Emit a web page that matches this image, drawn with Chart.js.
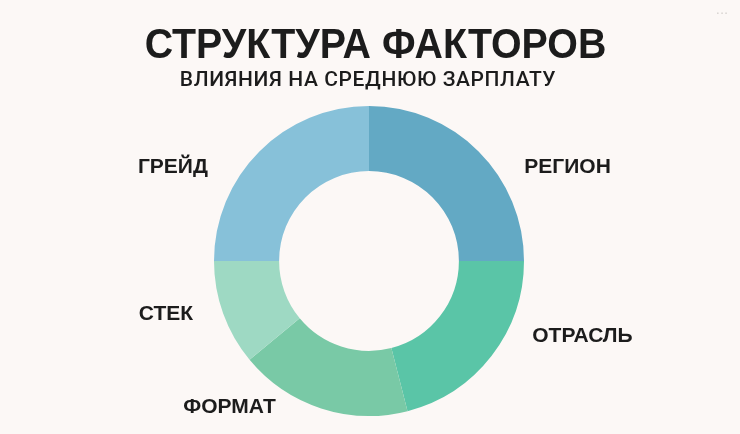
<!DOCTYPE html>
<html>
<head>
<meta charset="utf-8">
<script src="https://cdn.jsdelivr.net/npm/chart.js@4"></script>
<style>
  html, body { margin: 0; padding: 0; background: #fcf8f6; }
  #wrap { position: relative; width: 740px; height: 434px; }
</style>
</head>
<body>
<div id="wrap"><canvas id="factorsChart" width="740" height="434"></canvas></div>
<script>
  var factorLabels = ["РЕГИОН", "ОТРАСЛЬ", "ФОРМАТ", "СТЕК", "ГРЕЙД"];
  var factorShares = [25, 21, 18, 11, 25];
  var factorColors = ["#63a9c4", "#5ac5a7", "#79c9a6", "#9ed9c3", "#87c1d9"];

  var titleText = "СТРУКТУРА ФАКТОРОВ";
  var subtitleText = "ВЛИЯНИЯ НА СРЕДНЮЮ ЗАРПЛАТУ";

  // where each label sits, as a multiple of the outer radius from the centre
  var labelOffsets = [[1.281, -0.613], [1.377, 0.477], [-0.9, 0.935], [-1.31, 0.335], [-1.265, -0.613]];

  var textPlugin = {
    id: "factorText",
    afterDraw: function (chart) {
      var ctx = chart.ctx;
      var arc = chart.getDatasetMeta(0).data[0];
      var cx = arc.x, cy = arc.y, r = arc.outerRadius;

      ctx.save();
      ctx.fillStyle = "#1c1c1c";
      ctx.textAlign = "center";
      ctx.textBaseline = "alphabetic";

      // title font is a bit narrower than Liberation Sans, squeeze it
      ctx.save();
      ctx.translate(375.5, 58);
      ctx.scale(0.915, 1);
      ctx.font = "bold 43px 'Liberation Sans', Arial, sans-serif";
      ctx.fillText(titleText, 0, 0);
      ctx.restore();

      ctx.font = "500 21px Roboto, 'Liberation Sans', sans-serif";
      ctx.letterSpacing = "0.6px";
      ctx.fillText(subtitleText, 368, 86);
      ctx.letterSpacing = "0px";

      ctx.font = "bold 21px 'Liberation Sans', Arial, sans-serif";
      factorLabels.forEach(function (label, i) {
        var off = labelOffsets[i];
        ctx.fillText(label, cx + off[0] * r, cy + off[1] * r + 7.5);
      });

      ctx.fillStyle = "#d6d2cf";
      ctx.font = "13px 'DejaVu Sans', sans-serif";
      ctx.fillText("···", 722, 18);
      ctx.restore();
    }
  };

  new Chart(document.getElementById("factorsChart"), {
    type: "doughnut",
    data: {
      labels: factorLabels,
      datasets: [{
        data: factorShares,
        backgroundColor: factorColors,
        borderWidth: 0,
        hoverOffset: 0
      }]
    },
    options: {
      responsive: false,
      animation: false,
      cutout: "58%",
      layout: { padding: { top: 106, bottom: 18, left: 0, right: 2 } },
      plugins: {
        legend: { display: false },
        title: { display: false },
        tooltip: { enabled: false }
      }
    },
    plugins: [textPlugin]
  });
</script>
</body>
</html>
